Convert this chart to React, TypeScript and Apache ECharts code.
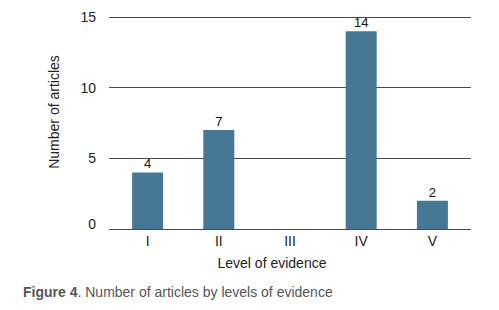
import React, { useEffect, useRef } from "react";
import * as echarts from "echarts";

const categories = ["I", "II", "III", "IV", "V"];
const articleCounts = [4, 7, 0, 14, 2];
const barLabels = ["4", "7", "", "14", "2"];
const yTicks = [0, 5, 10, 15];
const yAxisName = "Number of articles";
const xAxisName = "Level of evidence";
const captionBold = "Figure 4";
const captionRest = ". Number of articles by levels of evidence";

const FONT = "'Liberation Sans', Arial, sans-serif";

export default function App() {
  const ref = useRef<HTMLDivElement>(null);
  useEffect(() => {
    if (!ref.current) return;
    const chart = echarts.init(ref.current, undefined, { renderer: "svg" });
    chart.setOption({
      animation: false,
      backgroundColor: "#ffffff",
      textStyle: { fontFamily: FONT },
      grid: [
        { left: 112, right: 31, top: 17, bottom: 81 },
        { left: 109, right: 28, top: 17, bottom: 81 },
      ],
      xAxis: [
        {
          type: "category",
          gridIndex: 0,
          data: categories,
          axisLine: { show: false },
          axisTick: { show: false },
          axisLabel: { color: "#222", fontSize: 14, margin: 5, fontFamily: FONT },
        },
        { type: "value", gridIndex: 1, show: false, min: 0, max: 1 },
      ],
      yAxis: [
        { type: "value", gridIndex: 0, min: 0, max: yTicks[yTicks.length - 1], show: false },
        {
          type: "value",
          gridIndex: 1,
          min: yTicks[0],
          max: yTicks[yTicks.length - 1],
          interval: yTicks[1] - yTicks[0],
          axisLine: { show: false },
          axisTick: { show: false },
          splitLine: { show: true, lineStyle: { color: "#4a4a4a", width: 1 } },
          axisLabel: {
            color: "#222",
            fontSize: 14,
            margin: 13,
            fontFamily: FONT,
            formatter: (v: number) => (v === 0 ? "{z|0}" : String(v)),
            rich: { z: { padding: [0, 0, 11, 0], fontSize: 14, color: "#222", fontFamily: FONT } },
          },
        },
      ],
      series: [
        {
          type: "bar",
          xAxisIndex: 0,
          yAxisIndex: 0,
          data: articleCounts,
          barWidth: 31,
          itemStyle: { color: "#467896" },
          label: {
            show: true,
            position: "top",
            distance: 2,
            color: "#111",
            fontSize: 13,
            fontFamily: FONT,
            formatter: (p: any) => barLabels[p.dataIndex],
          },
        },
      ],
      graphic: [
        {
          type: "text",
          x: 54,
          y: 112,
          rotation: Math.PI / 2,
          style: {
            text: yAxisName,
            fontSize: 14,
            fontFamily: FONT,
            fill: "#222",
            align: "center",
            verticalAlign: "middle",
          },
        },
        {
          type: "text",
          x: 272,
          y: 263,
          style: {
            text: xAxisName,
            fontSize: 14,
            fontFamily: FONT,
            fill: "#222",
            align: "center",
            verticalAlign: "middle",
          },
        },
        {
          type: "text",
          x: 23,
          y: 292,
          style: {
            text: `{b|${captionBold}}{r|${captionRest}}`,
            verticalAlign: "middle",
            rich: {
              b: { fontSize: 14, fontWeight: "bold", fill: "#555", fontFamily: FONT },
              r: { fontSize: 14, fill: "#555", fontFamily: FONT },
            },
          },
        },
      ],
    });
    return () => chart.dispose();
  }, []);
  return (
    <div
      ref={ref}
      style={{ position: "fixed", left: 0, top: 0, width: 499, height: 310 }}
    />
  );
}
